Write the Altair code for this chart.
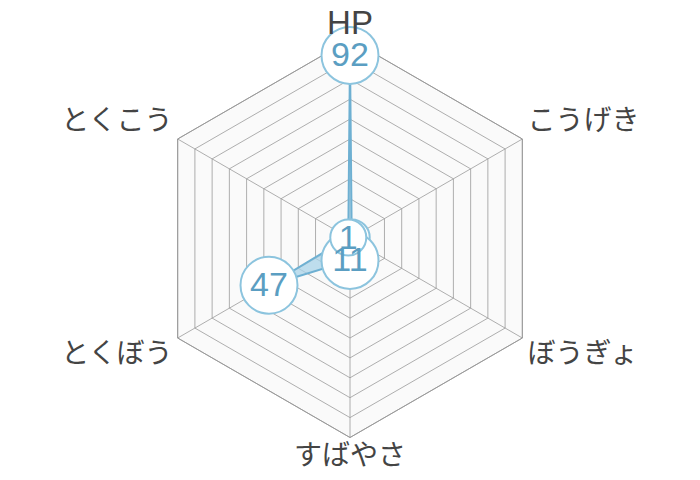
import altair as alt
import pandas as pd

# ---- data ----
axes = ["HP", "こうげき", "ぼうぎょ", "すばやさ", "とくぼう", "とくこう"]
values = [92, 1, 4, 11, 47, 1]
labels = ["92", "1", "", "11", "47", "1"]
label_text_shown = [1, 0, 0, 1, 1, 1]
grid_levels = [10, 20, 30, 40, 50, 60, 70, 80, 90, 100]
max_value = 100
label_radius = 103

# ---- layout ----
W, H = 684, 464
k = 1.99  # px per unit
cx, cy = 342, 230.5
xs = alt.Scale(domain=[-cx / k, (W - cx) / k], nice=False, zero=False)
ys = alt.Scale(domain=[-(H - cy) / k, cy / k], nice=False, zero=False)
noax = None

n = len(axes)
ang = f"datum.i * 2 * PI / {n}"

stats = pd.DataFrame({
    "i": list(range(n)), "axis": axes, "v": values,
    "label": labels, "show": label_text_shown,
})

grid = pd.DataFrame([{"level": lv, "i": i} for lv in grid_levels for i in range(n)])
outer = pd.DataFrame({"i": list(range(n)), "level": [max_value] * n})


def X(f):
    return alt.X(f, type="quantitative", scale=xs, axis=noax)


def Y(f):
    return alt.Y(f, type="quantitative", scale=ys, axis=noax)


background = alt.Chart(outer).transform_calculate(
    x=f"datum.level * sin({ang})", y=f"datum.level * cos({ang})"
).mark_line(interpolate="linear-closed", fill="#fafafa", stroke="#999999", strokeWidth=1).encode(
    x=X("x"), y=Y("y"), order="i:O"
)

rings = alt.Chart(grid).transform_calculate(
    x=f"datum.level * sin({ang})", y=f"datum.level * cos({ang})"
).mark_line(interpolate="linear-closed", stroke="#9a9a9a", strokeWidth=0.8).encode(
    x=X("x"), y=Y("y"), detail="level:N", order="i:O"
)

spokes = alt.Chart(outer).transform_calculate(
    x0="0", y0="0",
    x=f"datum.level * sin({ang})", y=f"datum.level * cos({ang})"
).mark_rule(stroke="#9a9a9a", strokeWidth=0.8).encode(
    x=X("x0"), y=Y("y0"), x2="x:Q", y2="y:Q"
)

polygon = alt.Chart(stats).transform_calculate(
    x=f"datum.v * sin({ang})", y=f"datum.v * cos({ang})"
).mark_line(
    interpolate="linear-closed", fill="#a9d3e8", fillOpacity=0.75,
    stroke="#6eb0d2", strokeWidth=2
).encode(x=X("x"), y=Y("y"), order="i:O")

pts_base = alt.Chart(stats).transform_filter("datum.label != ''").transform_calculate(
    x=f"datum.v * sin({ang})", y=f"datum.v * cos({ang})",
    d="15 + 21 * length(datum.label)", s="datum.d * datum.d"
)

circles = pts_base.mark_point(
    shape="circle", filled=True, fill="white", stroke="#8cc4de", strokeWidth=2, opacity=1
).encode(x=X("x"), y=Y("y"), size=alt.Size("s:Q", scale=None, legend=None), order="i:O")

texts = pts_base.transform_filter("datum.show == 1").mark_text(
    font="Liberation Sans", fontSize=34, color="#5b9ec2", baseline="middle", align="center", dy=1
).encode(x=X("x"), y=Y("y"), text="label:N")

placements = [
    ("center", "alphabetic", 33, "Liberation Sans"),
    ("left", "bottom", 28, "Noto Sans CJK JP"),
    ("left", "top", 28, "Noto Sans CJK JP"),
    ("center", "top", 28, "Noto Sans CJK JP"),
    ("right", "top", 28, "Noto Sans CJK JP"),
    ("right", "bottom", 28, "Noto Sans CJK JP"),
]

axis_layers = []
for idx, (al, bl, fs, fnt) in enumerate(placements):
    axis_layers.append(
        alt.Chart(stats).transform_filter(f"datum.i == {idx}").transform_calculate(
            x=f"{label_radius} * sin({ang})", y=f"{label_radius} * cos({ang})"
        ).mark_text(
            font=fnt, fontSize=fs, color="#444444", align=al, baseline=bl
        ).encode(x=X("x"), y=Y("y"), text="axis:N")
    )

chart = alt.layer(background, rings, spokes, polygon, circles, texts, *axis_layers).properties(
    width=W, height=H, autosize=alt.AutoSizeParams(type="none"), padding=0
).configure_view(stroke=None)

chart.save("out.html", embed_options={"renderer": "svg", "actions": False})
